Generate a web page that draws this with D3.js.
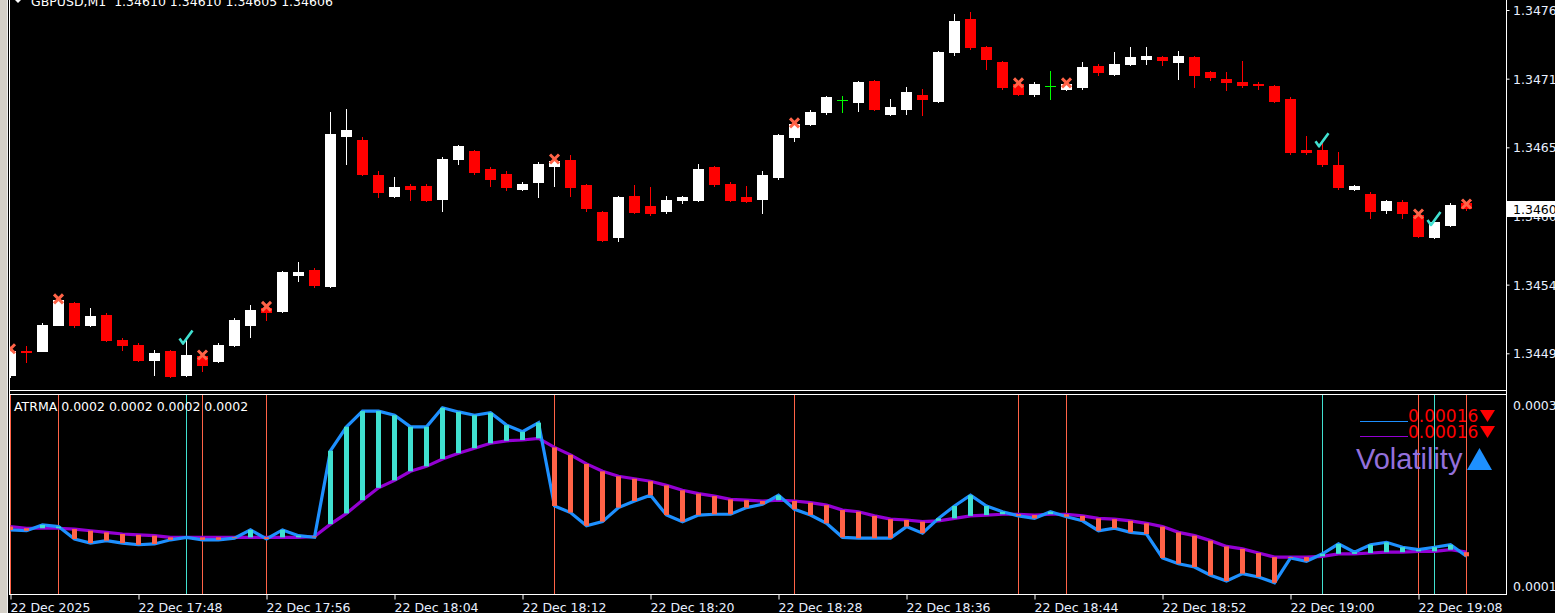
<!DOCTYPE html>
<html><head><meta charset="utf-8">
<script src="https://cdn.jsdelivr.net/npm/d3@7"></script>
<style>html,body{margin:0;padding:0;background:#000;overflow:hidden}svg{display:block}</style>
</head><body>
<svg id="c" width="1555" height="613"></svg>
<script>
// ---------------- data ----------------
const symbol = "GBPUSD,M1";
const startTime = "2025-12-22T17:40:00";
const open  = [1.34473,1.34492,1.34492,1.34513,1.34530,1.34513,1.34521,1.34501,1.34497,1.34485,1.34492,1.34473,1.34488,1.34484,1.34497,1.34513,1.34526,1.34524,1.34553,1.34557,
1.34544,1.34664,1.34661,1.34633,1.34616,1.34624,1.34624,1.34614,1.34646,1.34652,1.34638,1.34634,1.34622,1.34627,1.34640,1.34645,1.34625,1.34603,1.34583,1.34616,
1.34608,1.34604,1.34613,1.34613,1.34639,1.34626,1.34615,1.34614,1.34631,1.34663,1.34674,1.34683,1.34693,1.34691,1.34708,1.34682,1.34686,1.34697,1.34692,1.34731,
1.34758,1.34735,1.34723,1.34706,1.34698,1.34704,1.34702,1.34703,1.34720,1.34714,1.34722,1.34726,1.34727,1.34723,1.34727,1.34715,1.34710,1.34707,1.34706,1.34704,
1.34694,1.34653,1.34653,1.34641,1.34622,1.34618,1.34605,1.34611,1.34601,1.34583,1.34593,1.34610];
const high  = [1.34494,1.34496,1.34514,1.34534,1.34531,1.34526,1.34522,1.34502,1.34498,1.34493,1.34493,1.34501,1.34489,1.34498,1.34518,1.34529,1.34528,1.34556,1.34563,1.34558,
1.34683,1.34686,1.34663,1.34636,1.34631,1.34626,1.34626,1.34647,1.34657,1.34653,1.34639,1.34636,1.34627,1.34643,1.34646,1.34649,1.34626,1.34604,1.34616,1.34625,
1.34623,1.34616,1.34616,1.34642,1.34640,1.34627,1.34624,1.34636,1.34666,1.34675,1.34685,1.34696,1.34696,1.34708,1.34709,1.34694,1.34703,1.34702,1.34732,1.34762,
1.34763,1.34736,1.34724,1.34707,1.34707,1.34716,1.34707,1.34723,1.34722,1.34731,1.34735,1.34735,1.34728,1.34732,1.34728,1.34716,1.34715,1.34724,1.34707,1.34705,
1.34695,1.34664,1.34659,1.34651,1.34625,1.34619,1.34613,1.34613,1.34602,1.34596,1.34610,1.34610];
const low   = [1.34471,1.34483,1.34492,1.34513,1.34511,1.34512,1.34500,1.34493,1.34484,1.34473,1.34471,1.34472,1.34476,1.34483,1.34496,1.34503,1.34517,1.34523,1.34548,1.34543,
1.34543,1.34642,1.34633,1.34615,1.34615,1.34613,1.34612,1.34604,1.34642,1.34634,1.34624,1.34621,1.34621,1.34615,1.34624,1.34616,1.34604,1.34580,1.34580,1.34602,
1.34601,1.34602,1.34610,1.34612,1.34624,1.34612,1.34611,1.34602,1.34630,1.34660,1.34673,1.34682,1.34683,1.34684,1.34685,1.34681,1.34682,1.34681,1.34691,1.34729,
1.34734,1.34718,1.34702,1.34697,1.34696,1.34694,1.34701,1.34702,1.34713,1.34713,1.34721,1.34722,1.34721,1.34710,1.34703,1.34709,1.34701,1.34703,1.34702,1.34691,
1.34650,1.34650,1.34640,1.34622,1.34621,1.34598,1.34602,1.34598,1.34583,1.34582,1.34592,1.34605];
const close = [1.34492,1.34491,1.34513,1.34533,1.34513,1.34520,1.34501,1.34497,1.34485,1.34490,1.34472,1.34489,1.34481,1.34497,1.34517,1.34525,1.34523,1.34555,1.34555,1.34545,
1.34666,1.34669,1.34634,1.34619,1.34623,1.34622,1.34613,1.34646,1.34656,1.34635,1.34630,1.34623,1.34626,1.34642,1.34644,1.34623,1.34606,1.34581,1.34615,1.34603,
1.34602,1.34613,1.34615,1.34638,1.34626,1.34613,1.34612,1.34633,1.34665,1.34674,1.34683,1.34695,1.34693,1.34707,1.34686,1.34687,1.34699,1.34694,1.34731,1.34756,
1.34735,1.34726,1.34703,1.34698,1.34706,1.34704,1.34706,1.34719,1.34715,1.34722,1.34727,1.34728,1.34725,1.34728,1.34713,1.34711,1.34707,1.34705,1.34705,1.34692,
1.34651,1.34651,1.34642,1.34623,1.34624,1.34604,1.34612,1.34602,1.34584,1.34595,1.34609,1.34606];
// ATR (blue) and its moving average (purple)
const atr   = [0.000188,0.000187,0.000194,0.000192,0.000177,0.000172,0.000175,0.000172,0.000170,0.000171,0.000176,0.000179,0.000176,0.000176,0.000178,0.000188,0.000177,0.000188,0.000181,0.000179,
0.000284,0.000313,0.000332,0.000332,0.000327,0.000313,0.000313,0.000336,0.000331,0.000327,0.000330,0.000315,0.000307,0.000318,0.000217,0.000209,0.000193,0.000198,0.000215,0.000223,
0.000230,0.000206,0.000198,0.000206,0.000207,0.000207,0.000215,0.000219,0.000230,0.000213,0.000206,0.000196,0.000179,0.000178,0.000178,0.000178,0.000192,0.000184,0.000202,0.000217,
0.000230,0.000217,0.000210,0.000205,0.000202,0.000210,0.000204,0.000199,0.000187,0.000190,0.000185,0.000183,0.000154,0.000147,0.000143,0.000133,0.000126,0.000135,0.000131,0.000124,
0.000154,0.000150,0.000159,0.000171,0.000161,0.000170,0.000173,0.000167,0.000164,0.000167,0.000170,0.000156];
const atrMa = [0.000192,0.000190,0.000190,0.000190,0.000189,0.000187,0.000185,0.000183,0.000182,0.000181,0.000179,0.000179,0.000179,0.000179,0.000179,0.000179,0.000179,0.000179,0.000179,0.000180,
0.000195,0.000208,0.000224,0.000239,0.000248,0.000259,0.000265,0.000274,0.000281,0.000287,0.000293,0.000296,0.000297,0.000299,0.000288,0.000279,0.000268,0.000259,0.000253,0.000250,
0.000247,0.000242,0.000236,0.000232,0.000229,0.000225,0.000224,0.000223,0.000224,0.000223,0.000221,0.000218,0.000212,0.000210,0.000205,0.000201,0.000200,0.000198,0.000199,0.000202,
0.000205,0.000206,0.000207,0.000207,0.000206,0.000207,0.000207,0.000205,0.000202,0.000201,0.000199,0.000196,0.000192,0.000185,0.000181,0.000175,0.000168,0.000165,0.000160,0.000155,
0.000155,0.000155,0.000156,0.000159,0.000159,0.000160,0.000161,0.000161,0.000162,0.000162,0.000164,0.000161];
const sellSignals = [0,3,12,16,34,49,63,66,88,91];   // bar indices with x marks
const buySignals  = [11,82,89];                       // bar indices with check marks
const priceTicks  = [1.34490,1.34545,1.34600,1.34655,1.34710,1.34765];
const atrTicks    = [0.00012,0.00034];
const timeTicks   = ["17:40","17:48","17:56","18:04","18:12","18:20","18:28","18:36","18:44","18:52","19:00","19:08"];
const timeTickLabels = ["22 Dec 2025","22 Dec 17:48","22 Dec 17:56","22 Dec 18:04","22 Dec 18:12","22 Dec 18:20","22 Dec 18:28","22 Dec 18:36","22 Dec 18:44","22 Dec 18:52","22 Dec 19:00","22 Dec 19:08"];
const legendLabel = "Volatility";
const indicatorName = "ATRMA";

// ---------------- drawing ----------------
const W = 1555, H = 613;
const svg = d3.select("#c");
const FONT = "'DejaVu Sans', sans-serif";
const AXC = "#e8f0ff";
const RED = "#ff0000", WHITE = "#ffffff", LIME = "#00ff00";
const BLUE = "#1e90ff", PURPLE = "#9400d3", TURQ = "#40e0d0", TOMATO = "#ff6347";

const t0 = new Date(startTime);
const times = open.map((_, i) => new Date(t0.getTime() + i * 60000));
const x = d3.scaleTime().domain([times[0], times[times.length - 1]]).range([10.5, 1466.5]);
const y = d3.scaleLinear().domain([1.34490, 1.34765]).range([353.3, 10]);
const ya = d3.scaleLinear().domain([0.00012, 0.00034]).range([586, 404.5]);

svg.append("rect").attr("width", W).attr("height", H).attr("fill", "#000");

const defs = svg.append("defs");
defs.append("clipPath").attr("id", "mainClip").append("rect").attr("x", 10).attr("y", 0).attr("width", 1496).attr("height", 390);
defs.append("clipPath").attr("id", "indClip").append("rect").attr("x", 10).attr("y", 395).attr("width", 1496).attr("height", 199);

// ----- main candles -----
const main = svg.append("g").attr("clip-path", "url(#mainClip)");
const candles = main.selectAll("g.c").data(open.map((o, i) => ({i, o, h: high[i], l: low[i], c: close[i], t: times[i]})))
  .enter().append("g");
candles.each(function(d) {
  const g = d3.select(this);
  const cx = x(d.t);
  const col = d.c > d.o ? WHITE : (d.c < d.o ? RED : LIME);
  g.append("line").attr("x1", cx).attr("x2", cx)
    .attr("y1", Math.round(y(d.h))).attr("y2", Math.round(y(d.l)) + 1)
    .attr("stroke", col).attr("stroke-width", 1);
  const top = Math.round(y(Math.max(d.o, d.c)));
  const bot = Math.round(y(Math.min(d.o, d.c)));
  g.append("rect").attr("x", cx - 5.5).attr("width", 11)
    .attr("y", top).attr("height", Math.max(1, bot - top + (d.c === d.o ? 0 : 1)))
    .attr("fill", col).attr("shape-rendering", "crispEdges");
});

// signal marks
const marks = svg.append("g").attr("clip-path", "url(#mainClip)");
sellSignals.forEach(i => {
  const cx = x(times[i]), cy = y(high[i]) + 0.5;
  marks.append("path").attr("d", `M${cx-4.5},${cy-4.5}L${cx+4.5},${cy+4.5}M${cx+4.5},${cy-4.5}L${cx-4.5},${cy+4.5}`)
    .attr("stroke", TOMATO).attr("stroke-width", 3).attr("fill", "none");
});
buySignals.forEach(i => {
  const cx = x(times[i]), hy = y(high[i]);
  marks.append("path").attr("d", `M${cx-7},${hy-1}L${cx-3.5},${hy+4}L${cx+6},${hy-9}`)
    .attr("stroke", TURQ).attr("stroke-width", 2.6).attr("fill", "none").attr("stroke-linejoin", "round");
});

// ----- indicator -----
const ind = svg.append("g").attr("clip-path", "url(#indClip)");
const vx = i => Math.floor(x(times[i]) + 0.01) + 0.5;
sellSignals.forEach(i => {
  ind.append("line").attr("x1", vx(i)).attr("x2", vx(i))
    .attr("y1", 395).attr("y2", 595).attr("stroke", TOMATO).attr("stroke-width", 1);
});
buySignals.forEach(i => {
  ind.append("line").attr("x1", vx(i)).attr("x2", vx(i))
    .attr("y1", 395).attr("y2", 595).attr("stroke", TURQ).attr("stroke-width", 1);
});
const lineMa = d3.line().x((d, i) => x(times[i])).y(d => ya(d));
ind.append("path").attr("d", lineMa(atrMa)).attr("fill", "none").attr("stroke", PURPLE).attr("stroke-width", 3.2);
ind.append("path").attr("d", lineMa(atr)).attr("fill", "none").attr("stroke", BLUE).attr("stroke-width", 3.2);
ind.selectAll("rect.h").data(atr).enter().append("rect")
  .attr("x", (d, i) => x(times[i]) - 2.5).attr("width", 5)
  .attr("y", (d, i) => Math.min(ya(d), ya(atrMa[i])))
  .attr("height", (d, i) => Math.abs(ya(d) - ya(atrMa[i])))
  .attr("fill", (d, i) => d >= atrMa[i] ? TURQ : TOMATO);

// ----- frame -----
svg.append("rect").attr("x", 0).attr("y", 0).attr("width", 7).attr("height", H).attr("fill", "#d4d0c8");
svg.append("rect").attr("x", 7).attr("y", 0).attr("width", 1).attr("height", H).attr("fill", "#f0f0f0");
const frame = svg.append("g").attr("stroke", "#fff").attr("stroke-width", 1).attr("shape-rendering", "crispEdges");
frame.append("line").attr("x1", 9.5).attr("x2", 9.5).attr("y1", 0).attr("y2", 595);
frame.append("line").attr("x1", 1506.5).attr("x2", 1506.5).attr("y1", 0).attr("y2", 595);
frame.append("line").attr("x1", 9).attr("x2", 1507).attr("y1", 390.5).attr("y2", 390.5);
frame.append("line").attr("x1", 9).attr("x2", 1507).attr("y1", 394.5).attr("y2", 394.5);
frame.append("line").attr("x1", 9).attr("x2", 1507).attr("y1", 594.5).attr("y2", 594.5);

// ----- price axis -----
const trunc4 = v => (Math.floor(v * 10000 + 1e-6) / 10000).toFixed(4);
const pAxis = svg.append("g").attr("transform", "translate(1506.5,0)")
  .call(d3.axisRight(y).tickValues(priceTicks).tickFormat(trunc4).tickSize(3).tickPadding(3));
pAxis.select(".domain").remove();
pAxis.selectAll("line").attr("stroke", "#fff");
pAxis.selectAll("text").attr("fill", AXC).attr("font-family", FONT).attr("font-size", "12.5px").attr("x", 6.5).attr("dy", "0.36em");

// current price box
const lastC = close[close.length - 1];
const by = Math.round(y(lastC));
svg.append("rect").attr("x", 1507).attr("y", by - 7).attr("width", 48).attr("height", 16).attr("fill", "#fff");
svg.append("text").attr("x", 1513).attr("y", by + 6).attr("fill", "#000").attr("font-family", FONT).attr("font-size", "12.5px")
  .text(trunc4(lastC));

// ----- indicator axis -----
const aAxis = svg.append("g").attr("transform", "translate(1506.5,0)")
  .call(d3.axisRight(ya).tickValues(atrTicks).tickFormat(d3.format(".4f")).tickSize(0).tickPadding(6));
aAxis.select(".domain").remove();
aAxis.selectAll("text").attr("fill", AXC).attr("font-family", FONT).attr("font-size", "12.5px").attr("x", 6.5).attr("dy", "0.36em");

// ----- time axis -----
const tickDates = timeTicks.map(s => new Date("2025-12-22T" + s + ":00"));
const tAxis = svg.append("g").attr("transform", "translate(0,594.5)")
  .call(d3.axisBottom(x).tickValues(tickDates).tickFormat((d, i) => timeTickLabels[i]).tickSize(5));
tAxis.select(".domain").remove();
tAxis.selectAll("line").attr("stroke", "#fff");
tAxis.selectAll("text").attr("fill", AXC).attr("font-family", FONT).attr("font-size", "12.5px")
  .attr("text-anchor", "start").attr("x", -0.5).attr("y", 17.5).attr("dy", 0);

// ----- titles -----
svg.append("path").attr("d", "M15,0L21,0L18,3Z").attr("fill", "#fff");
const fmt5 = d3.format(".5f");
svg.append("text").attr("x", 31).attr("y", 5.5).attr("fill", "#fff").attr("font-family", FONT).attr("font-size", "12.5px")
  .attr("xml:space", "preserve")
  .text(symbol + "  " + [open, high, low, close].map(a => fmt5(a[a.length - 1])).join(" "));
const f4 = d3.format(".4f");
const n = atr.length - 1;
svg.append("text").attr("x", 14).attr("y", 411).attr("fill", "#fff").attr("font-family", FONT).attr("font-size", "12.5px")
  .text(indicatorName + " " + [atr[n], atrMa[n], atr[n], atrMa[n]].map(f4).join(" "));

// ----- right legend -----
const leg = svg.append("g");
[[atr[n], BLUE, 421.5, 422], [atrMa[n], PURPLE, 436.5, 438]].forEach(([v, c, ly, ty]) => {
  leg.append("line").attr("x1", 1360).attr("x2", 1408).attr("y1", ly).attr("y2", ly).attr("stroke", c).attr("stroke-width", 1);
  leg.append("text").attr("x", 1408).attr("y", ty).attr("fill", RED).attr("font-family", FONT).attr("font-size", "17px").text(fmt5(v));
  leg.append("path").attr("d", `M1480,${ty-12}L1495,${ty-12}L1487.5,${ty}Z`).attr("fill", RED);
});
leg.append("text").attr("x", 1356).attr("y", 469).attr("fill", "#9370db").attr("font-family", "'Liberation Sans', Arial, sans-serif")
  .attr("font-size", "29px").text(legendLabel);
leg.append("path").attr("d", "M1467,470L1492,470L1479.5,448Z").attr("fill", BLUE);
</script>
</body></html>
